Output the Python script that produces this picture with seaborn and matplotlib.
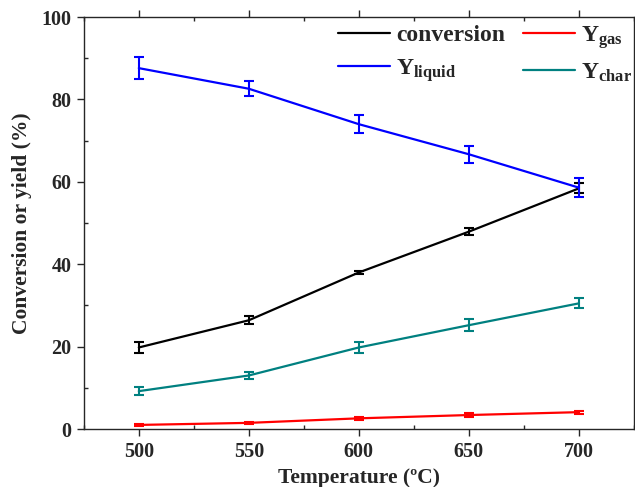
import matplotlib
matplotlib.use("Agg")
import matplotlib.pyplot as plt
import seaborn as sns
import pandas as pd
from matplotlib.ticker import MultipleLocator

temperature = [500, 550, 600, 650, 700]
conversion = [19.8, 26.4, 38.0, 47.9, 58.4]
conversion_err = [1.4, 1.0, 0.4, 0.9, 1.2]
y_gas = [1.0, 1.5, 2.6, 3.4, 4.1]
y_gas_err = [0.3, 0.3, 0.4, 0.4, 0.4]
y_liquid = [87.6, 82.6, 74.0, 66.7, 58.6]
y_liquid_err = [2.6, 1.8, 2.2, 2.1, 2.3]
y_char = [9.2, 13.0, 19.8, 25.2, 30.5]
y_char_err = [1.0, 0.8, 1.3, 1.4, 1.2]

labels = ["conversion", r"Y$_{\mathbf{gas}}$",
          r"Y$_{\mathbf{liquid}}$", r"Y$_{\mathbf{char}}$"]
colors = ["#000000", "#FF0000", "#0000FF", "#008080"]

values = [conversion, y_gas, y_liquid, y_char]
errors = [conversion_err, y_gas_err, y_liquid_err, y_char_err]

rows = []
for lab, vals, errs in zip(labels, values, errors):
    for t, v, e in zip(temperature, vals, errs):
        rows.append({"T": t, "value": v, "err": e, "series": lab})
df = pd.DataFrame(rows)

sns.set_style("ticks")
plt.rcParams["font.family"] = ["Liberation Serif", "DejaVu Serif"]
plt.rcParams["font.weight"] = "bold"
plt.rcParams["mathtext.fontset"] = "custom"
plt.rcParams["mathtext.rm"] = "Liberation Serif:bold"
plt.rcParams["mathtext.bf"] = "Liberation Serif:bold"
plt.rcParams["mathtext.it"] = "Liberation Serif:bold"

fig = plt.figure(figsize=(6.35, 4.87), dpi=100)
ax = fig.add_axes([0.132, 0.119, 0.866, 0.846])

palette = dict(zip(labels, colors))
sns.lineplot(data=df, x="T", y="value", hue="series", palette=palette,
             hue_order=labels, linewidth=1.6, ax=ax, legend=True,
             errorbar=None)

for lab, col in zip(labels, colors):
    sub = df[df["series"] == lab]
    ax.errorbar(sub["T"], sub["value"], yerr=sub["err"], fmt="none",
                ecolor=col, elinewidth=1.5, capsize=3.5, capthick=1.5)

ax.set_xlim(475, 725)
ax.set_ylim(0, 100)
ax.set_xticks(temperature)
ax.set_yticks([0, 20, 40, 60, 80, 100])
ax.xaxis.set_minor_locator(MultipleLocator(25))
ax.yaxis.set_minor_locator(MultipleLocator(10))
ax.tick_params(which="major", direction="out", length=5, width=1,
               labelsize=14.5, pad=4)
ax.tick_params(which="minor", direction="in", length=3, width=1)
ax.tick_params(top=True, which="both")
for lab in ax.get_xticklabels() + ax.get_yticklabels():
    lab.set_fontweight("bold")
for s in ax.spines.values():
    s.set_linewidth(1.0)
    s.set_visible(True)

ax.set_xlabel("Temperature (ºC)", fontsize=15.5, fontweight="bold", labelpad=4.5)
ax.set_ylabel("Conversion or yield (%)", fontsize=15.5, fontweight="bold", labelpad=7)

handles, hl = ax.get_legend_handles_labels()
hmap = dict(zip(hl, handles))
order = [labels[0], labels[2], labels[1], labels[3]]
leg = ax.legend([hmap[k] for k in order], order, ncol=2, loc="upper right",
                frameon=False, prop={"size": 17, "weight": "bold"},
                handlelength=2.2, columnspacing=0.75,
                bbox_to_anchor=(1.035, 1.035), handletextpad=0.25,
                labelspacing=0.45)

fig.savefig("out.png", dpi=100)
